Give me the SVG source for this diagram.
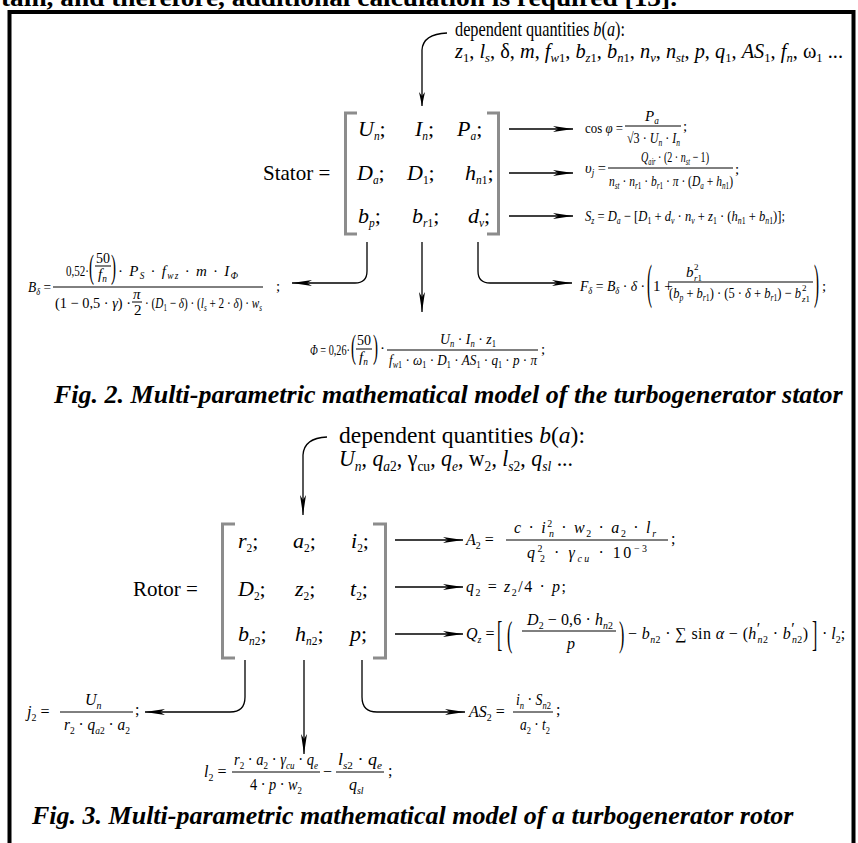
<svg xmlns="http://www.w3.org/2000/svg" width="858" height="843" viewBox="0 0 858 843">
<style>
.t{font-family:"Liberation Serif","Times New Roman",serif;fill:#000}
.mx{font-size:22px;font-style:italic}
.f14{font-size:15px;font-style:italic}
.f16{font-size:16px;font-style:italic}
.cap{font-weight:bold;font-style:italic;font-size:26px}
.i{font-style:italic}
.u{font-style:normal}
.s{font-size:62%}
.s2{font-size:52%}
.c{stroke:#000;stroke-width:1.3;fill:none}
.bar{stroke:#000;stroke-width:1}
.br{stroke:#8c8c8c;stroke-width:3;fill:none}
</style>
<defs>
<marker id="ah" markerWidth="20" markerHeight="6" refX="20" refY="3" orient="auto" markerUnits="userSpaceOnUse"><path d="M0,0 L20,3 L0,6 L5,3 Z" fill="#000"/></marker>
<marker id="ahs" markerWidth="14" markerHeight="6" refX="14" refY="3" orient="auto" markerUnits="userSpaceOnUse"><path d="M0,0 L14,3 L0,6 L4,3 Z" fill="#000"/></marker>
</defs>
<rect width="858" height="843" fill="#fff"/>
<text class="t" x="1" y="6" font-size="26" font-weight="bold" textLength="676" lengthAdjust="spacingAndGlyphs">tain, and therefore, additional calculation is required [13].</text>
<rect id="frame" x="9.5" y="12" width="844" height="900" fill="none" stroke="#000" stroke-width="4"/>

<g id="connectors">
<path class="c" d="M447,33 Q423,34 422,50 V106" marker-end="url(#ahs)"/>
<path class="c" d="M509,129 H573" marker-end="url(#ah)"/>
<path class="c" d="M509,173 H573" marker-end="url(#ah)"/>
<path class="c" d="M509,216 H573" marker-end="url(#ah)"/>
<path class="c" d="M367,242 V271 Q367,283 355,283 H292" marker-end="url(#ah)"/>
<path class="c" d="M422,242 V312" marker-end="url(#ah)"/>
<path class="c" d="M478,242 V271 Q478,283 490,283 H572" marker-end="url(#ah)"/>
<path class="c" d="M327,437 Q304,438 303,455 V515" marker-end="url(#ah)"/>
<path class="c" d="M395,540 H463" marker-end="url(#ah)"/>
<path class="c" d="M395,587 H463" marker-end="url(#ah)"/>
<path class="c" d="M395,634 H463" marker-end="url(#ah)"/>
<path class="c" d="M245,660 V697 Q245,712 230,712 H145" marker-end="url(#ah)"/>
<path class="c" d="M304,660 V754" marker-end="url(#ah)"/>
<path class="c" d="M362,660 V697 Q362,712 377,712 H465" marker-end="url(#ah)"/>
</g>

<g id="stator-deps">
<text class="t" font-size="21" x="455" y="36" textLength="170" lengthAdjust="spacingAndGlyphs">dependent quantities <tspan class="i">b</tspan>(<tspan class="i">a</tspan>):</text>
<text class="t" font-size="21" x="455" y="58" textLength="388" lengthAdjust="spacingAndGlyphs"><tspan class="i">z</tspan><tspan class="s" dy="4">1</tspan><tspan dy="-4">, </tspan><tspan class="i">l</tspan><tspan class="s i" dy="4">s</tspan><tspan dy="-4">, δ, </tspan><tspan class="i">m</tspan><tspan>, </tspan><tspan class="i">f</tspan><tspan class="s i" dy="4">w</tspan><tspan class="s">1</tspan><tspan dy="-4">, </tspan><tspan class="i">b</tspan><tspan class="s i" dy="4">z</tspan><tspan class="s">1</tspan><tspan dy="-4">, </tspan><tspan class="i">b</tspan><tspan class="s i" dy="4">n</tspan><tspan class="s">1</tspan><tspan dy="-4">, </tspan><tspan class="i">n</tspan><tspan class="s i" dy="4">v</tspan><tspan dy="-4">, </tspan><tspan class="i">n</tspan><tspan class="s i" dy="4">st</tspan><tspan dy="-4">, </tspan><tspan class="i">p</tspan><tspan>, </tspan><tspan class="i">q</tspan><tspan class="s" dy="4">1</tspan><tspan dy="-4">, </tspan><tspan class="i">AS</tspan><tspan class="s" dy="4">1</tspan><tspan dy="-4">, </tspan><tspan class="i">f</tspan><tspan class="s i" dy="4">n</tspan><tspan dy="-4">, ω</tspan><tspan class="s" dy="4">1</tspan><tspan dy="-4"> ...</tspan></text>
</g>

<g id="stator-matrix">
<text class="t" font-size="21" x="263" y="180">Stator =</text>
<path class="br" d="M357,113 H345.5 V234 H357"/>
<path class="br" d="M487,113 H498.5 V234 H487"/>
<text class="t mx" x="358" y="136">U<tspan class="s2" dy="4">n</tspan><tspan class="u" dy="-4">;</tspan></text>
<text class="t mx" x="415" y="136">I<tspan class="s2" dy="4">n</tspan><tspan class="u" dy="-4">;</tspan></text>
<text class="t mx" x="457" y="136">P<tspan class="s2" dy="4">a</tspan><tspan class="u" dy="-4">;</tspan></text>
<text class="t mx" x="357" y="180">D<tspan class="s2" dy="4">a</tspan><tspan class="u" dy="-4">;</tspan></text>
<text class="t mx" x="407" y="180">D<tspan class="s2 u" dy="4">1</tspan><tspan class="u" dy="-4">;</tspan></text>
<text class="t mx" x="465" y="180">h<tspan class="s2" dy="4">n</tspan><tspan class="s2 u">1</tspan><tspan class="u" dy="-4">;</tspan></text>
<text class="t mx" x="358" y="223">b<tspan class="s2" dy="4">p</tspan><tspan class="u" dy="-4">;</tspan></text>
<text class="t mx" x="412" y="223">b<tspan class="s2" dy="4">r</tspan><tspan class="s2 u">1</tspan><tspan class="u" dy="-4">;</tspan></text>
<text class="t mx" x="468" y="223">d<tspan class="s2" dy="4">v</tspan><tspan class="u" dy="-4">;</tspan></text>
</g>

<g id="f-cos">
<text class="t f14" x="585" y="133" textLength="38" lengthAdjust="spacingAndGlyphs"><tspan class="u">cos </tspan>φ<tspan class="u"> =</tspan></text>
<text class="t f14" x="645" y="121">P<tspan class="s" dy="3">a</tspan></text>
<line class="bar" x1="625" y1="126" x2="681" y2="126"/>
<text class="t f14" x="627" y="143" textLength="53" lengthAdjust="spacingAndGlyphs"><tspan class="u">√3 · </tspan>U<tspan class="s" dy="3">n</tspan><tspan class="u" dy="-3"> · </tspan>I<tspan class="s" dy="3">n</tspan></text>
<text class="t f14 u" x="683" y="131">;</text>
</g>

<g id="f-vj">
<text class="t f14" x="585" y="173" textLength="21" lengthAdjust="spacingAndGlyphs">υ<tspan class="s" dy="3">j</tspan><tspan class="u" dy="-3"> =</tspan></text>
<text class="t f14" x="641" y="162" textLength="68" lengthAdjust="spacingAndGlyphs">Q<tspan class="s" dy="3">air</tspan><tspan class="u" dy="-3"> · (2 · </tspan>n<tspan class="s" dy="3">st</tspan><tspan class="u" dy="-3"> − 1)</tspan></text>
<line class="bar" x1="608" y1="168" x2="733" y2="168"/>
<text class="t f14" x="609" y="186" textLength="124" lengthAdjust="spacingAndGlyphs">n<tspan class="s" dy="3">st</tspan><tspan class="u" dy="-3"> · </tspan>n<tspan class="s" dy="3">r</tspan><tspan class="s u">1</tspan><tspan class="u" dy="-3"> · </tspan>b<tspan class="s" dy="3">r</tspan><tspan class="s u">1</tspan><tspan class="u" dy="-3"> · </tspan>π<tspan class="u"> · (</tspan>D<tspan class="s" dy="3">a</tspan><tspan class="u" dy="-3"> + </tspan>h<tspan class="s" dy="3">n</tspan><tspan class="s u">1</tspan><tspan class="u" dy="-3">)</tspan></text>
<text class="t f14 u" x="735" y="174">;</text>
</g>

<g id="f-sz">
<text class="t f14" x="585" y="221" textLength="200" lengthAdjust="spacingAndGlyphs">S<tspan class="s" dy="3">z</tspan><tspan class="u" dy="-3"> = </tspan>D<tspan class="s" dy="3">a</tspan><tspan class="u" dy="-3"> − [</tspan>D<tspan class="s u" dy="3">1</tspan><tspan class="u" dy="-3"> + </tspan>d<tspan class="s" dy="3">v</tspan><tspan class="u" dy="-3"> · </tspan>n<tspan class="s" dy="3">v</tspan><tspan class="u" dy="-3"> + </tspan>z<tspan class="s u" dy="3">1</tspan><tspan class="u" dy="-3"> · (</tspan>h<tspan class="s" dy="3">n</tspan><tspan class="s u">1</tspan><tspan class="u" dy="-3"> + </tspan>b<tspan class="s" dy="3">n</tspan><tspan class="s u">1</tspan><tspan class="u" dy="-3">)];</tspan></text>
</g>

<g id="f-bdelta">
<text class="t f14" x="28" y="292" textLength="23" lengthAdjust="spacingAndGlyphs">B<tspan class="s" dy="3">δ</tspan><tspan class="u" dy="-3"> =</tspan></text>
<text class="t f14 u" x="66" y="276" textLength="23" lengthAdjust="spacingAndGlyphs">0,52·</text>
<text class="t f14 u" transform="translate(89,278) scale(1,2.3)">(</text>
<text class="t f14 u" x="96" y="263" textLength="14" lengthAdjust="spacingAndGlyphs">50</text>
<line class="bar" x1="95" y1="266" x2="111" y2="266"/>
<text class="t f14" x="98" y="279">f<tspan class="s" dy="3">n</tspan></text>
<text class="t f14 u" transform="translate(111,278) scale(1,2.3)">)</text>
<text class="t f14" x="118" y="276" textLength="120" lengthAdjust="spacing"><tspan class="u">· </tspan>P<tspan class="s" dy="3">S</tspan><tspan class="u" dy="-3"> · </tspan>f<tspan class="s" dy="3">wz</tspan><tspan class="u" dy="-3"> · </tspan>m<tspan class="u"> · </tspan>I<tspan class="s" dy="3">Ф</tspan></text>
<line class="bar" x1="53" y1="287" x2="263" y2="287"/>
<text class="t f14" x="55" y="308" textLength="76" lengthAdjust="spacingAndGlyphs"><tspan class="u">(1 − 0,5 · </tspan>γ<tspan class="u">) ·</tspan></text>
<text class="t f14" x="133" y="299">π</text>
<line class="bar" x1="132" y1="302" x2="142" y2="302"/>
<text class="t f14 u" x="134" y="315">2</text>
<text class="t f14" x="145" y="308" textLength="117" lengthAdjust="spacingAndGlyphs"><tspan class="u">· (</tspan>D<tspan class="s u" dy="3">1</tspan><tspan class="u" dy="-3"> − </tspan>δ<tspan class="u">) · (</tspan>l<tspan class="s" dy="3">s</tspan><tspan class="u" dy="-3"> + 2 · </tspan>δ<tspan class="u">) · </tspan>w<tspan class="s" dy="3">s</tspan></text>
<text class="t f14 u" x="276" y="291">;</text>
</g>

<g id="f-phi">
<text class="t f14" x="310" y="355" textLength="40" lengthAdjust="spacingAndGlyphs">Φ<tspan class="u"> = 0,26·</tspan></text>
<text class="t f14 u" transform="translate(351,358) scale(1,2.3)">(</text>
<text class="t f14 u" x="357" y="345" textLength="14" lengthAdjust="spacingAndGlyphs">50</text>
<line class="bar" x1="356" y1="349" x2="372" y2="349"/>
<text class="t f14" x="359" y="362">f<tspan class="s" dy="3">n</tspan></text>
<text class="t f14 u" transform="translate(373,358) scale(1,2.3)">)</text>
<text class="t f14 u" x="380" y="353">·</text>
<line class="bar" x1="387" y1="350" x2="538" y2="350"/>
<text class="t f14" x="440" y="344" textLength="56" lengthAdjust="spacingAndGlyphs">U<tspan class="s" dy="3">n</tspan><tspan class="u" dy="-3"> · </tspan>I<tspan class="s" dy="3">n</tspan><tspan class="u" dy="-3"> · </tspan>z<tspan class="s u" dy="3">1</tspan></text>
<text class="t f14" x="389" y="365" textLength="148" lengthAdjust="spacingAndGlyphs">f<tspan class="s" dy="3">w</tspan><tspan class="s u">1</tspan><tspan class="u" dy="-3"> · </tspan>ω<tspan class="s u" dy="3">1</tspan><tspan class="u" dy="-3"> · </tspan>D<tspan class="s u" dy="3">1</tspan><tspan class="u" dy="-3"> · </tspan>AS<tspan class="s u" dy="3">1</tspan><tspan class="u" dy="-3"> · </tspan>q<tspan class="s u" dy="3">1</tspan><tspan class="u" dy="-3"> · </tspan>p<tspan class="u"> · </tspan>π</text>
<text class="t f14 u" x="541" y="354">;</text>
</g>

<g id="f-fdelta">
<text class="t f14" x="580" y="291" textLength="65" lengthAdjust="spacingAndGlyphs">F<tspan class="s" dy="3">δ</tspan><tspan class="u" dy="-3"> = </tspan>B<tspan class="s" dy="3">δ</tspan><tspan class="u" dy="-3"> · </tspan>δ<tspan class="u"> ·</tspan></text>
<text class="t f14 u" transform="translate(647,298) scale(1,3.2)">(</text>
<text class="t f14 u" x="653" y="291">1 +</text>
<text class="t f14" x="686" y="277">b</text>
<text class="t u" font-size="9" x="694" y="270">2</text>
<text class="t i" font-size="9" x="694" y="281">r<tspan class="u">1</tspan></text>
<line class="bar" x1="668" y1="282" x2="813" y2="282"/>
<text class="t f14" x="669" y="298" textLength="132" lengthAdjust="spacingAndGlyphs"><tspan class="u">(</tspan>b<tspan class="s" dy="3">p</tspan><tspan class="u" dy="-3"> + </tspan>b<tspan class="s" dy="3">r</tspan><tspan class="s u">1</tspan><tspan class="u" dy="-3">) · (5 · </tspan>δ<tspan class="u"> + </tspan>b<tspan class="s" dy="3">r</tspan><tspan class="s u">1</tspan><tspan class="u" dy="-3">) − </tspan>b</text>
<text class="t u" font-size="9" x="802" y="291">2</text>
<text class="t i" font-size="9" x="802" y="302">z<tspan class="u">1</tspan></text>
<text class="t f14 u" transform="translate(814,298) scale(1,3.2)">)</text>
<text class="t f14 u" x="822" y="291">;</text>
</g>

<text id="caption-2" class="t cap" x="54" y="403">Fig. 2. Multi-parametric mathematical model of the turbogenerator stator</text>

<g id="rotor-deps">
<text class="t" font-size="24" x="339" y="443" textLength="246" lengthAdjust="spacingAndGlyphs">dependent quantities <tspan class="i">b</tspan>(<tspan class="i">a</tspan>):</text>
<text class="t" font-size="24" x="339" y="466" textLength="234" lengthAdjust="spacingAndGlyphs"><tspan class="i">U</tspan><tspan class="s i" dy="5">n</tspan><tspan dy="-5">, </tspan><tspan class="i">q</tspan><tspan class="s i" dy="5">a</tspan><tspan class="s">2</tspan><tspan dy="-5">, γ</tspan><tspan class="s" dy="5">cu</tspan><tspan dy="-5">, </tspan><tspan class="i">q</tspan><tspan class="s i" dy="5">e</tspan><tspan dy="-5">, w</tspan><tspan class="s" dy="5">2</tspan><tspan dy="-5">, </tspan><tspan class="i">l</tspan><tspan class="s i" dy="5">s</tspan><tspan class="s">2</tspan><tspan dy="-5">, </tspan><tspan class="i">q</tspan><tspan class="s i" dy="5">sl</tspan><tspan dy="-5"> ...</tspan></text>
</g>

<g id="rotor-matrix">
<text class="t" font-size="21" x="133" y="596">Rotor =</text>
<path class="br" d="M235,524 H222.5 V658 H235"/>
<path class="br" d="M373,524 H385.5 V658 H373"/>
<text class="t mx" x="238" y="548">r<tspan class="s2 u" dy="4">2</tspan><tspan class="u" dy="-4">;</tspan></text>
<text class="t mx" x="293" y="548">a<tspan class="s2 u" dy="4">2</tspan><tspan class="u" dy="-4">;</tspan></text>
<text class="t mx" x="351" y="548">i<tspan class="s2 u" dy="4">2</tspan><tspan class="u" dy="-4">;</tspan></text>
<text class="t mx" x="238" y="596">D<tspan class="s2 u" dy="4">2</tspan><tspan class="u" dy="-4">;</tspan></text>
<text class="t mx" x="295" y="596">z<tspan class="s2 u" dy="4">2</tspan><tspan class="u" dy="-4">;</tspan></text>
<text class="t mx" x="350" y="596">t<tspan class="s2 u" dy="4">2</tspan><tspan class="u" dy="-4">;</tspan></text>
<text class="t mx" x="238" y="641">b<tspan class="s2" dy="4">n</tspan><tspan class="s2 u">2</tspan><tspan class="u" dy="-4">;</tspan></text>
<text class="t mx" x="295" y="641">h<tspan class="s2" dy="4">n</tspan><tspan class="s2 u">2</tspan><tspan class="u" dy="-4">;</tspan></text>
<text class="t mx" x="350" y="641">p<tspan class="u">;</tspan></text>
</g>

<g id="f-a2">
<text class="t f16" x="466" y="545">A<tspan class="s u" dy="4">2</tspan><tspan class="u" dy="-4"> =</tspan></text>
<line class="bar" x1="506" y1="540" x2="668" y2="540"/>
<text class="t f16" x="514" y="533" textLength="142" lengthAdjust="spacing">c<tspan class="u"> · </tspan>i<tspan class="s u" dy="-6">2</tspan><tspan class="s" dx="-5" dy="10">n</tspan><tspan class="u" dy="-4"> · </tspan>w<tspan class="s u" dy="4">2</tspan><tspan class="u" dy="-4"> · </tspan>a<tspan class="s u" dy="4">2</tspan><tspan class="u" dy="-4"> · </tspan>l<tspan class="s" dy="4">r</tspan></text>
<text class="t f16" x="527" y="558" textLength="120" lengthAdjust="spacing">q<tspan class="s u" dy="-6">2</tspan><tspan class="s u" dx="-5" dy="10">2</tspan><tspan class="u" dy="-4"> · </tspan>γ<tspan class="s" dy="4">cu</tspan><tspan class="u" dy="-4"> · 10</tspan><tspan class="s u" dy="-6">−3</tspan></text>
<text class="t f16 u" x="671" y="544">;</text>
</g>

<g id="f-q2">
<text class="t f16" x="466" y="592" textLength="100" lengthAdjust="spacing">q<tspan class="s u" dy="4">2</tspan><tspan class="u" dy="-4"> = </tspan>z<tspan class="s u" dy="4">2</tspan><tspan class="u" dy="-4">/4 · </tspan>p<tspan class="u">;</tspan></text>
</g>

<g id="f-qz">
<text class="t f16" x="466" y="639">Q<tspan class="s" dy="4">z</tspan><tspan class="u" dy="-4"> =</tspan></text>
<text class="t f16 u" transform="translate(497,646) scale(1,2.3)">[</text>
<text class="t f16 u" transform="translate(507,646) scale(1,2.3)">(</text>
<text class="t f16" x="527" y="625" textLength="86" lengthAdjust="spacing">D<tspan class="s u" dy="4">2</tspan><tspan class="u" dy="-4"> − 0,6 · </tspan>h<tspan class="s" dy="4">n</tspan><tspan class="s u">2</tspan></text>
<line class="bar" x1="522" y1="631" x2="616" y2="631"/>
<text class="t f16" x="567" y="649">p</text>
<text class="t f16 u" transform="translate(619,646) scale(1,2.3)">)</text>
<text class="t f16" x="628" y="639" textLength="180" lengthAdjust="spacing"><tspan class="u">− </tspan>b<tspan class="s" dy="4">n</tspan><tspan class="s u">2</tspan><tspan class="u" dy="-4"> · ∑ sin </tspan>α<tspan class="u"> − (</tspan>h<tspan class="u" dy="-5">′</tspan><tspan class="s" dx="-3" dy="9">n</tspan><tspan class="s u">2</tspan><tspan class="u" dy="-4"> · </tspan>b<tspan class="u" dy="-5">′</tspan><tspan class="s" dx="-3" dy="9">n</tspan><tspan class="s u">2</tspan><tspan class="u" dy="-4">)</tspan></text>
<text class="t f16 u" transform="translate(812,646) scale(1,2.3)">]</text>
<text class="t f16" x="822" y="639"><tspan class="u">· </tspan>l<tspan class="s u" dy="4">2</tspan><tspan class="u" dy="-4">;</tspan></text>
</g>

<g id="f-j2">
<text class="t f16" x="27" y="717">j<tspan class="s u" dy="4">2</tspan><tspan class="u" dy="-4"> =</tspan></text>
<line class="bar" x1="60" y1="712" x2="133" y2="712"/>
<text class="t f16" x="85" y="705">U<tspan class="s" dy="4">n</tspan></text>
<text class="t f16" x="64" y="730" textLength="66" lengthAdjust="spacingAndGlyphs">r<tspan class="s u" dy="4">2</tspan><tspan class="u" dy="-4"> · </tspan>q<tspan class="s" dy="4">a</tspan><tspan class="s u">2</tspan><tspan class="u" dy="-4"> · </tspan>a<tspan class="s u" dy="4">2</tspan></text>
<text class="t f16 u" x="135" y="715">;</text>
</g>

<g id="f-l2">
<text class="t f16" x="204" y="777">l<tspan class="s u" dy="4">2</tspan><tspan class="u" dy="-4"> =</tspan></text>
<line class="bar" x1="232" y1="772" x2="320" y2="772"/>
<text class="t f16" x="234" y="765" textLength="84" lengthAdjust="spacingAndGlyphs">r<tspan class="s u" dy="4">2</tspan><tspan class="u" dy="-4"> · </tspan>a<tspan class="s u" dy="4">2</tspan><tspan class="u" dy="-4"> · </tspan>γ<tspan class="s" dy="4">cu</tspan><tspan class="u" dy="-4"> · </tspan>q<tspan class="s" dy="4">e</tspan></text>
<text class="t f16" x="250" y="790" textLength="52" lengthAdjust="spacingAndGlyphs"><tspan class="u">4 · </tspan>p<tspan class="u"> · </tspan>w<tspan class="s u" dy="4">2</tspan></text>
<text class="t f16 u" x="323" y="777">−</text>
<line class="bar" x1="336" y1="772" x2="384" y2="772"/>
<text class="t f16" x="338" y="765" textLength="44" lengthAdjust="spacingAndGlyphs">l<tspan class="s" dy="4">s</tspan><tspan class="s u">2</tspan><tspan class="u" dy="-4"> · </tspan>q<tspan class="s" dy="4">e</tspan></text>
<text class="t f16" x="349" y="790">q<tspan class="s" dy="4">sl</tspan></text>
<text class="t f16 u" x="388" y="776">;</text>
</g>

<g id="f-as2">
<text class="t f16" x="469" y="717">AS<tspan class="s u" dy="4">2</tspan><tspan class="u" dy="-4"> =</tspan></text>
<line class="bar" x1="513" y1="712" x2="553" y2="712"/>
<text class="t f16" x="516" y="705" textLength="35" lengthAdjust="spacingAndGlyphs">i<tspan class="s" dy="4">n</tspan><tspan class="u" dy="-4"> · </tspan>S<tspan class="s" dy="4">n</tspan><tspan class="s u">2</tspan></text>
<text class="t f16" x="520" y="730" textLength="30" lengthAdjust="spacingAndGlyphs">a<tspan class="s u" dy="4">2</tspan><tspan class="u" dy="-4"> · </tspan>t<tspan class="s u" dy="4">2</tspan></text>
<text class="t f16 u" x="556" y="715">;</text>
</g>

<text id="caption-3" class="t cap" x="32" y="824">Fig. 3. Multi-parametric mathematical model of a turbogenerator rotor</text>
</svg>
